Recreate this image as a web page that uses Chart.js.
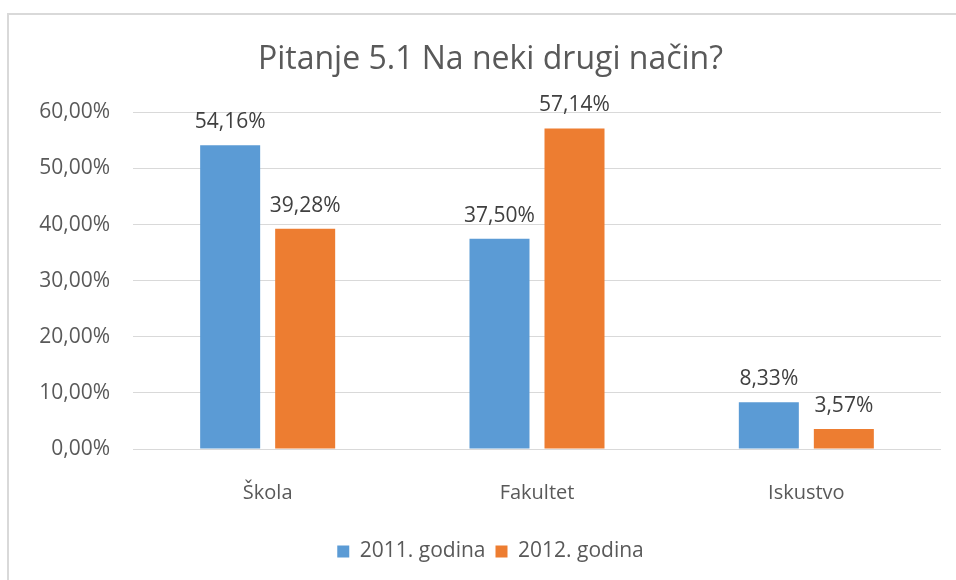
<!DOCTYPE html>
<html>
<head>
<meta charset="utf-8">
<script src="https://cdn.jsdelivr.net/npm/chart.js@4.4.1/dist/chart.umd.min.js"></script>
<style>
  html, body { margin: 0; padding: 0; background: #fff; overflow: hidden; }
  #wrap { position: relative; width: 956px; height: 580px; }
  #frame {
    position: absolute; left: 7px; top: 13px; width: 1000px; height: 1000px;
    border: 2px solid #d9d9d9; box-sizing: border-box;
  }
  canvas { position: absolute; left: 0; top: 0; }
</style>
</head>
<body>
<div id="wrap">
  <div id="frame"></div>
  <canvas id="chart" width="956" height="580"></canvas>
</div>
<script>
const categories = ['Škola', 'Fakultet', 'Iskustvo']
const values2011 = [54.16, 37.50, 8.33]
const values2012 = [39.28, 57.14, 3.57]
const seriesNames = ['2011. godina', '2012. godina']

const FONT = "'Open Sans', 'Noto Sans', sans-serif"
const TEXT = '#595959'

function pct(v) {
  return v.toFixed(2).replace('.', ',') + '%'
}

// draws the value above each bar
const barValues = {
  id: 'barValues',
  afterDatasetsDraw(chart) {
    const ctx = chart.ctx
    ctx.save()
    ctx.font = '21px ' + FONT
    ctx.fillStyle = '#404040'
    ctx.textAlign = 'center'
    ctx.textBaseline = 'alphabetic'
    chart.data.datasets.forEach((ds, i) => {
      const meta = chart.getDatasetMeta(i)
      meta.data.forEach((bar, j) => {
        ctx.fillText(pct(ds.data[j]), bar.x, bar.y - 17)
      })
    })
    ctx.restore()
  }
}

// y axis is kept narrow so title/legend sit a bit right, like the original;
// widen its clip box so the tick labels are not cut off
const wideYLabels = {
  id: 'wideYLabels',
  afterLayout(chart) {
    chart.scales.y.left = 0
  }
}

new Chart(document.getElementById('chart'), {
  type: 'bar',
  data: {
    labels: categories,
    datasets: [
      {
        label: seriesNames[0],
        data: values2011,
        backgroundColor: '#5B9BD5',
        categoryPercentage: 0.557,
        barPercentage: 0.8
      },
      {
        label: seriesNames[1],
        data: values2012,
        backgroundColor: '#ED7D31',
        categoryPercentage: 0.557,
        barPercentage: 0.8
      }
    ]
  },
  options: {
    responsive: false,
    animation: false,
    layout: {
      padding: { left: 40, right: 15, top: 14, bottom: 8 }
    },
    plugins: {
      title: {
        display: true,
        text: 'Pitanje 5.1 Na neki drugi način?',
        color: TEXT,
        font: { family: FONT, size: 32, weight: 'normal' },
        padding: { top: 27, bottom: 33 }
      },
      legend: {
        position: 'bottom',
        labels: {
          color: TEXT,
          font: { family: FONT, size: 21 },
          boxWidth: 12,
          boxHeight: 12,
          padding: 10
        }
      },
      tooltip: { enabled: false }
    },
    scales: {
      x: {
        grid: { display: false },
        border: { display: false },
        ticks: {
          color: TEXT,
          font: { family: FONT, size: 20 },
          padding: 24
        },
        afterFit(scale) {
          scale.height = 82
        }
      },
      y: {
        min: 0,
        max: 60,
        grid: { color: '#d9d9d9', drawTicks: false },
        border: { display: false },
        ticks: {
          stepSize: 10,
          color: TEXT,
          font: { family: FONT, size: 21 },
          padding: 23,
          callback: v => pct(v)
        },
        afterFit(scale) {
          scale.width = 93
        }
      }
    }
  },
  plugins: [barValues, wideYLabels]
})
</script>
</body>
</html>
